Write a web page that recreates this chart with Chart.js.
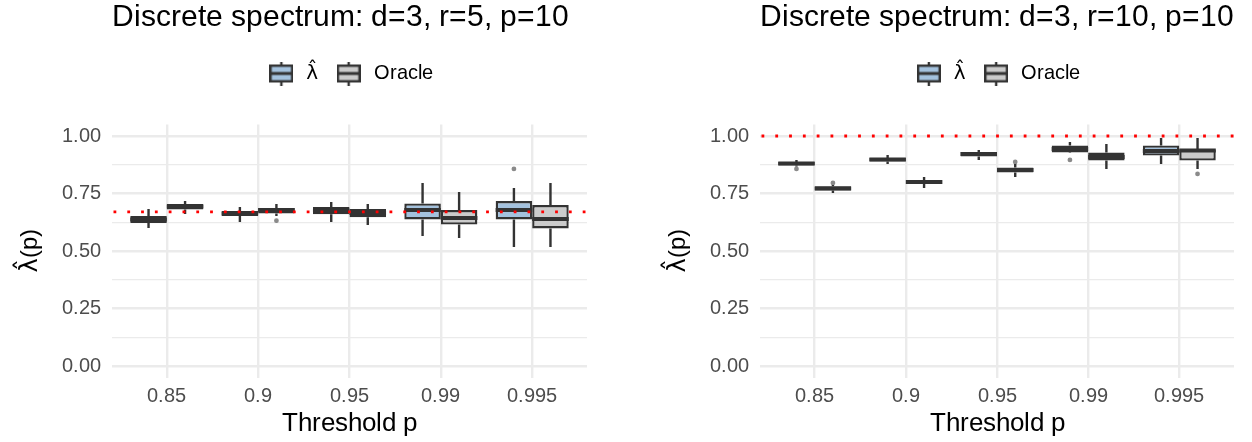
<!DOCTYPE html>
<html>
<head>
  <title>Discrete spectrum</title>
  <script src="https://cdn.jsdelivr.net/npm/chart.js"></script>
  <style>
    /* Latin glyphs from Liberation Sans, Greek and combining marks fall back to DejaVu Sans */
    @font-face {
      font-family: 'SansLatin';
      src: local('Liberation Sans'), local('LiberationSans-Regular'), local('LiberationSans');
      unicode-range: U+0000-02FF, U+2000-206F;
    }
    body { margin: 0; background: #fff; }
    .panel { position: absolute; top: 0; width: 626px; height: 442px; }
  </style>
</head>
<body>
  <div class="panel" style="left:0"><canvas id="left" width="626" height="442"></canvas></div>
  <div class="panel" style="left:626px"><canvas id="right" width="626" height="442"></canvas></div>

  <script>
    const thresholds = ['0.85', '0.9', '0.95', '0.99', '0.995'];

    // each row: [lower whisker, q1, median, q3, upper whisker]
    const leftLambda = [
      [0.600, 0.622, 0.637, 0.652, 0.683],
      [0.626, 0.652, 0.663, 0.674, 0.691],
      [0.626, 0.660, 0.676, 0.691, 0.713],
      [0.565, 0.637, 0.678, 0.707, 0.796],
      [0.517, 0.637, 0.678, 0.717, 0.774]
    ];
    const leftLambdaOut = [[4, 0.857]];
    const leftOracle = [
      [0.661, 0.680, 0.693, 0.704, 0.717],
      [0.652, 0.663, 0.678, 0.687, 0.704],
      [0.613, 0.647, 0.665, 0.683, 0.704],
      [0.557, 0.615, 0.643, 0.678, 0.757],
      [0.517, 0.598, 0.639, 0.700, 0.796]
    ];
    const leftOracleOut = [[1, 0.632]];
    const leftRef = 0.67;

    const rightLambda = [
      [0.867, 0.872, 0.880, 0.887, 0.896],
      [0.878, 0.889, 0.898, 0.904, 0.917],
      [0.896, 0.911, 0.922, 0.930, 0.939],
      [0.926, 0.928, 0.943, 0.959, 0.974],
      [0.878, 0.915, 0.935, 0.959, 0.991]
    ];
    const rightLambdaOut = [[0, 0.857], [3, 0.896]];
    const rightOracle = [
      [0.752, 0.763, 0.772, 0.781, 0.787],
      [0.774, 0.791, 0.800, 0.809, 0.822],
      [0.822, 0.841, 0.852, 0.863, 0.878],
      [0.857, 0.893, 0.909, 0.928, 0.965],
      [0.857, 0.893, 0.937, 0.941, 0.991]
    ];
    const rightOracleOut = [[0, 0.796], [2, 0.887], [4, 0.835]];
    const rightRef = 1.0;

    const lambdaFill = '#a4c2de';
    const oracleFill = '#cbcbcb';
    const ink = '#333333';

    Chart.defaults.font.family = "SansLatin, 'DejaVu Sans', sans-serif";

    const isMajor = v => Math.abs(v * 4 - Math.round(v * 4)) < 1e-6;

    function legendIcon(fill) {
      const c = document.createElement('canvas');
      c.width = 24; c.height = 24;
      const g = c.getContext('2d');
      g.strokeStyle = ink;
      g.lineWidth = 2.4;
      g.beginPath();
      g.moveTo(12, 0); g.lineTo(12, 4);
      g.moveTo(12, 20); g.lineTo(12, 24);
      g.stroke();
      g.fillStyle = fill;
      g.fillRect(1.2, 4.2, 21.6, 15.6);
      g.strokeRect(1.2, 4.2, 21.6, 15.6);
      g.lineWidth = 3;
      g.beginPath(); g.moveTo(1, 12); g.lineTo(23, 12); g.stroke();
      return c;
    }

    // whiskers, medians, outliers and the dotted reference line
    const boxExtras = {
      id: 'boxExtras',
      afterDatasetsDraw(chart, args, opts) {
        const { ctx, chartArea, scales: { y } } = chart;
        ctx.save();
        chart.data.datasets.forEach((ds, di) => {
          const meta = chart.getDatasetMeta(di);
          ctx.strokeStyle = ink;
          meta.data.forEach((bar, i) => {
            const [lo, q1, med, q3, hi] = ds.stats[i];
            ctx.lineWidth = 2.4;
            ctx.beginPath();
            ctx.moveTo(bar.x, y.getPixelForValue(hi));
            ctx.lineTo(bar.x, y.getPixelForValue(q3));
            ctx.moveTo(bar.x, y.getPixelForValue(q1));
            ctx.lineTo(bar.x, y.getPixelForValue(lo));
            ctx.stroke();
            ctx.lineWidth = 4;
            ctx.beginPath();
            ctx.moveTo(bar.x - bar.width / 2, y.getPixelForValue(med));
            ctx.lineTo(bar.x + bar.width / 2, y.getPixelForValue(med));
            ctx.stroke();
          });
          ctx.fillStyle = 'rgba(60,60,60,0.6)';
          ds.outliers.forEach(([i, v]) => {
            ctx.beginPath();
            ctx.arc(meta.data[i].x, y.getPixelForValue(v), 2.4, 0, Math.PI * 2);
            ctx.fill();
          });
        });
        const ry = y.getPixelForValue(opts.ref);
        ctx.strokeStyle = '#ff0000';
        ctx.lineWidth = 2.8;
        ctx.setLineDash([2.8, 11]);
        ctx.lineDashOffset = -1.5;
        ctx.beginPath();
        ctx.moveTo(chartArea.left, ry);
        ctx.lineTo(chartArea.right, ry);
        ctx.stroke();
        ctx.restore();
      }
    };

    function makePanel(id, title, lamStats, lamOut, orcStats, orcOut, ref, padLeft, padRight) {
      const toBox = stats => stats.map((s, i) => ({ x: i, y: [s[1], s[3]] }));
      const barStyle = { borderColor: ink, borderWidth: 2.4, borderSkipped: false, categoryPercentage: 0.8, barPercentage: 1 };
      return new Chart(document.getElementById(id), {
        type: 'bar',
        data: {
          datasets: [
            Object.assign({ label: 'λ̂', data: toBox(lamStats), stats: lamStats, outliers: lamOut, backgroundColor: lambdaFill }, barStyle),
            Object.assign({ label: 'Oracle', data: toBox(orcStats), stats: orcStats, outliers: orcOut, backgroundColor: oracleFill }, barStyle)
          ]
        },
        options: {
          responsive: false,
          animation: false,
          devicePixelRatio: 1,
          events: [],
          layout: { padding: { left: padLeft, right: padRight, top: 0, bottom: 0 } },
          scales: {
            x: {
              type: 'linear',
              min: -0.6,
              max: 4.6,
              offset: false,
              afterFit: s => { s.height = 64.5; },
              border: { display: false },
              grid: { color: '#ebebeb', lineWidth: 2.4, drawTicks: false, offset: false },
              ticks: {
                stepSize: 1, includeBounds: false, autoSkip: false, maxRotation: 0,
                padding: 7, color: '#4d4d4d', font: { size: 20 },
                callback: v => thresholds[v] ?? ''
              },
              title: { display: true, text: 'Threshold p', color: '#000', font: { size: 25.5 }, padding: { top: 0, bottom: 2.7 } }
            },
            y: {
              min: -0.05,
              max: 1.05,
              afterFit: s => { s.width = 112; },
              border: { display: false },
              grid: { color: '#ebebeb', lineWidth: c => isMajor(c.tick.value) ? 2.4 : 1.2, drawTicks: false },
              ticks: {
                stepSize: 0.125, includeBounds: false, autoSkip: false,
                padding: 11, color: '#4d4d4d', font: { size: 20 },
                callback: v => isMajor(v) ? v.toFixed(2) : ''
              },
              title: { display: true, text: 'λ̂(p)', color: '#000', font: { size: 24 }, padding: { top: 15.6, bottom: 0 } }
            }
          },
          plugins: {
            title: {
              display: true, text: title, align: 'start', fullSize: false, color: '#000',
              font: { size: 30, weight: 'normal' }, padding: { top: 0, bottom: 12 }
            },
            subtitle: {
              display: true, text: '', fullSize: false, weight: 500,
              font: { size: 10 }, padding: { top: 19, bottom: 0 }
            },
            legend: {
              position: 'top',
              fullSize: false,
              labels: {
                usePointStyle: true, pointStyleWidth: 30, padding: 15.5,
                color: '#000', font: { size: 20 },
                generateLabels: chart => chart.data.datasets.map((ds, i) => ({
                  text: ds.label,
                  pointStyle: legendIcon(ds.backgroundColor),
                  fillStyle: ds.backgroundColor,
                  strokeStyle: ink,
                  lineWidth: 0,
                  hidden: false,
                  datasetIndex: i,
                  fontColor: '#000'
                }))
              }
            },
            tooltip: { enabled: false },
            boxExtras: { ref: ref }
          }
        },
        plugins: [boxExtras]
      });
    }

    const charts = [
      makePanel('left', 'Discrete spectrum: d=3, r=5, p=10',
        leftLambda, leftLambdaOut, leftOracle, leftOracleOut, leftRef, 0, 39),
      makePanel('right', 'Discrete spectrum: d=3, r=10, p=10',
        rightLambda, rightLambdaOut, rightOracle, rightOracleOut, rightRef, 22, 18)
    ];

    Promise.all([
      document.fonts.load('20px SansLatin', 'Oracle 0.85'),
      document.fonts.load('20px "DejaVu Sans"', 'λ̂')
    ]).then(() => charts.forEach(c => c.update()));
  </script>
</body>
</html>
